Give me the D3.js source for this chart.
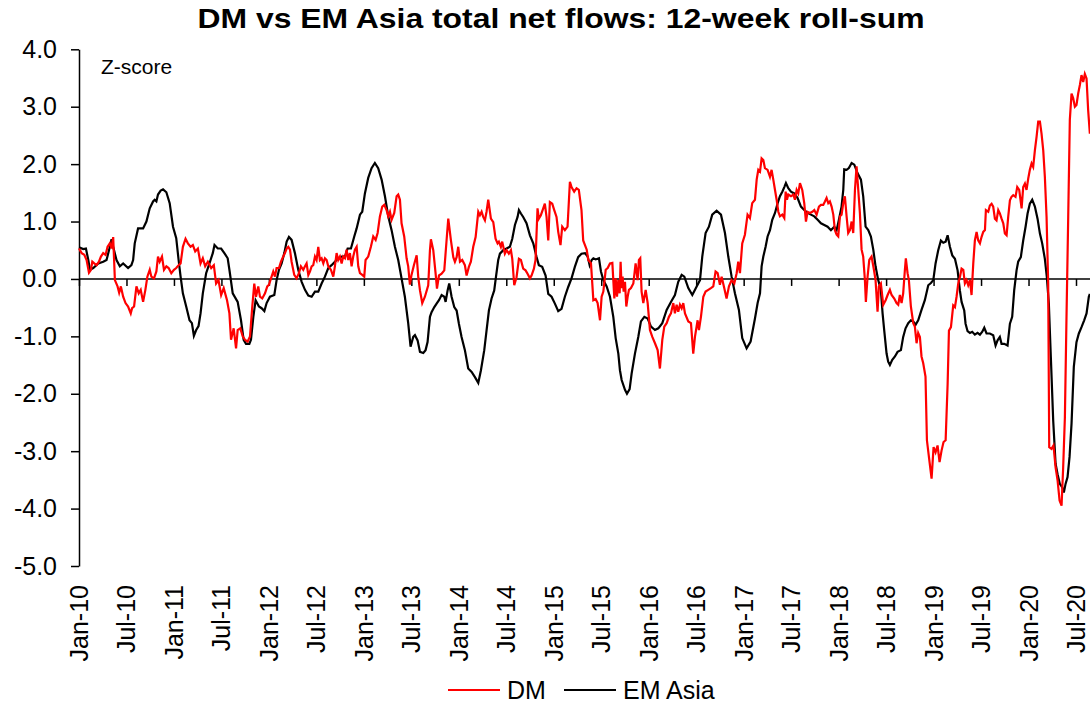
<!DOCTYPE html>
<html>
<head>
<meta charset="utf-8">
<script src="https://cdn.jsdelivr.net/npm/d3@7"></script>
<style>
  body { margin: 0; background: #fff; }
  svg text { font-family: "Liberation Sans", Arial, sans-serif; fill: #000; }
</style>
</head>
<body>
<div id="chart"></div>
<script>
// x tick labels, one every half year
var tickLabels = ["Jan-10","Jul-10","Jan-11","Jul-11","Jan-12","Jul-12","Jan-13","Jul-13","Jan-14","Jul-14",
  "Jan-15","Jul-15","Jan-16","Jul-16","Jan-17","Jul-17","Jan-18","Jul-18","Jan-19","Jul-19","Jan-20","Jul-20"];
var yTicks = [4, 3, 2, 1, 0, -1, -2, -3, -4, -5];
var seriesNames = ["DM", "EM Asia"];

// DM: decimal year / z-score
var dmYear = [2010.000,2010.028,2010.056,2010.080,2010.105,2010.126,2010.140,2010.161,2010.185,2010.210,2010.231,2010.255,2010.280,2010.301,2010.325,2010.343,2010.360,2010.378,2010.406,2010.423,2010.441,2010.465,2010.490,2010.517,2010.545,2010.559,2010.580,2010.605,2010.629,2010.650,2010.675,2010.699,2010.720,2010.745,2010.762,2010.790,2010.815,2010.832,2010.850,2010.874,2010.895,2010.920,2010.944,2010.972,2011.000,2011.024,2011.049,2011.070,2011.094,2011.122,2011.147,2011.175,2011.199,2011.224,2011.252,2011.280,2011.304,2011.329,2011.357,2011.392,2011.420,2011.444,2011.469,2011.497,2011.524,2011.559,2011.584,2011.601,2011.629,2011.654,2011.671,2011.699,2011.724,2011.748,
  2011.776,2011.801,2011.825,2011.846,2011.864,2011.888,2011.906,2011.930,2011.959,2011.983,2012.001,2012.022,2012.046,2012.064,2012.081,2012.106,2012.127,2012.151,2012.169,2012.187,2012.204,2012.222,2012.239,2012.267,2012.292,2012.316,2012.337,2012.362,2012.380,2012.397,2012.415,2012.432,2012.450,2012.467,2012.485,2012.502,2012.520,2012.537,2012.555,2012.573,2012.590,2012.608,2012.625,2012.653,2012.678,2012.695,2012.713,2012.730,2012.748,2012.766,2012.783,2012.801,2012.818,2012.836,2012.853,2012.871,2012.888,2012.906,2012.924,2012.941,2012.959,2012.983,2013.004,2013.018,2013.046,2013.074,2013.099,2013.124,2013.145,2013.169,2013.194,2013.215,2013.239,2013.257,2013.275,2013.292,2013.320,2013.345,2013.362,2013.380,2013.397,2013.425,2013.450,2013.467,2013.485,2013.502,2013.527,
  2013.556,2013.573,2013.591,2013.615,2013.643,2013.678,2013.696,2013.706,2013.731,2013.756,2013.770,2013.791,2013.819,2013.847,2013.871,2013.889,2013.917,2013.942,2013.959,2013.977,2013.994,2014.012,2014.036,2014.064,2014.082,2014.106,2014.127,2014.152,2014.177,2014.205,2014.222,2014.240,2014.257,2014.275,2014.292,2014.310,2014.338,2014.363,2014.387,2014.408,2014.422,2014.443,2014.457,2014.485,2014.503,2014.527,2014.549,2014.563,2014.584,2014.608,2014.633,2014.654,2014.678,2014.703,2014.724,2014.749,2014.766,2014.791,2014.808,2014.829,2014.843,2014.864,2014.889,2014.906,2014.924,2014.942,2014.959,2014.984,2015.005,2015.029,2015.047,2015.071,2015.089,2015.117,2015.145,2015.170,2015.187,2015.215,2015.240,2015.264,2015.292,2015.310,
  2015.347,2015.364,2015.392,2015.417,2015.441,2015.462,2015.487,2015.504,2015.522,2015.547,2015.568,2015.592,2015.617,2015.638,2015.652,2015.666,2015.680,2015.694,2015.704,2015.715,2015.725,2015.736,2015.750,2015.764,2015.778,2015.792,2015.813,2015.838,2015.862,2015.883,2015.897,2015.911,2015.925,2015.943,2015.968,2015.989,2016.013,2016.038,2016.066,2016.094,2016.118,2016.143,2016.164,2016.189,2016.213,2016.234,2016.259,2016.276,2016.294,2016.311,2016.329,2016.347,2016.364,2016.382,2016.417,2016.445,2016.469,2016.487,2016.515,2016.529,2016.550,2016.575,2016.599,2016.627,2016.655,2016.680,2016.704,2016.726,2016.750,2016.768,2016.796,2016.820,2016.845,2016.873,2016.901,2016.926,2016.943,2016.961,2016.985,2017.013,2017.041,2017.066,2017.090,
  2017.119,2017.137,2017.154,2017.172,2017.189,2017.207,2017.224,2017.252,2017.277,2017.294,2017.312,2017.330,2017.347,2017.365,2017.382,2017.407,2017.428,2017.442,2017.456,2017.470,2017.498,2017.523,2017.540,2017.558,2017.575,2017.593,2017.617,2017.638,2017.656,2017.673,2017.698,2017.723,2017.744,2017.768,2017.793,2017.814,2017.838,2017.856,2017.873,2017.891,2017.908,2017.926,2017.944,2017.961,2017.979,2017.996,2018.014,2018.031,2018.049,2018.066,2018.084,2018.101,2018.119,2018.137,2018.154,2018.172,2018.189,2018.207,2018.224,2018.242,2018.259,2018.277,2018.287,2018.305,2018.323,2018.347,2018.372,2018.389,2018.410,2018.424,2018.445,2018.470,2018.495,2018.516,2018.540,2018.558,2018.586,2018.610,2018.628,2018.645,2018.663,2018.680,2018.698,2018.708,2018.726,2018.740,2018.761,2018.786,2018.803,2018.821,2018.838,2018.856,2018.873,2018.891,2018.915,
  2018.930,2018.951,2018.979,2019.000,2019.021,2019.042,2019.063,2019.084,2019.105,2019.127,2019.148,2019.162,2019.183,2019.207,2019.225,2019.242,2019.260,2019.277,2019.295,2019.313,2019.330,2019.348,2019.365,2019.383,2019.400,2019.418,2019.435,2019.453,2019.470,2019.488,2019.505,2019.523,2019.541,2019.551,2019.576,2019.593,2019.611,2019.628,2019.646,2019.663,2019.681,2019.698,2019.716,2019.734,2019.751,2019.769,2019.786,2019.804,2019.821,2019.839,2019.863,2019.881,2019.902,2019.927,2019.944,2019.962,2019.979,2019.997,2020.014,2020.032,2020.049,2020.067,2020.085,2020.102,2020.120,2020.137,2020.155,2020.172,2020.190,2020.207,2020.218,2020.242,2020.263,2020.285,2020.306,2020.327,2020.348,2020.365,2020.383,2020.400,2020.418,2020.435,2020.453,2020.470,2020.488,2020.505,2020.523,2020.541,2020.558,2020.576,2020.593,2020.611,2020.628,2020.646];
var dmValue = [0.53,0.45,0.42,0.33,0.11,0.16,0.30,0.27,0.24,0.30,0.39,0.45,0.42,0.56,0.62,0.53,0.73,-0.02,-0.13,-0.24,-0.13,-0.31,-0.42,-0.48,-0.60,-0.51,-0.48,-0.13,-0.25,-0.19,-0.40,-0.19,0.04,0.16,0.04,0.01,0.13,0.39,0.30,0.39,0.16,0.22,0.19,0.10,0.16,0.19,0.24,0.27,0.56,0.70,0.62,0.56,0.59,0.48,0.53,0.27,0.36,0.22,0.30,0.19,0.24,-0.08,-0.02,-0.28,-0.16,-0.37,-0.60,-1.06,-0.86,-1.21,-0.89,-0.86,-1.00,-1.06,
  -1.09,-1.00,-0.48,-0.08,-0.31,-0.13,-0.31,-0.34,-0.25,-0.13,-0.10,0.01,0.13,0.04,0.19,0.19,0.30,0.39,0.45,0.53,0.56,0.51,0.30,0.07,0.01,0.10,0.22,0.16,0.22,0.27,0.07,0.13,0.22,0.24,0.39,0.33,0.56,0.33,0.36,0.27,0.36,0.33,0.22,0.16,0.04,0.22,0.45,0.33,0.39,0.27,0.39,0.36,0.51,0.33,0.45,0.22,0.39,0.51,0.56,0.22,0.10,0.07,0.04,0.33,0.39,0.56,0.74,0.68,0.80,1.09,1.26,1.29,1.20,1.09,1.17,1.03,1.15,1.44,1.47,1.38,0.97,0.74,0.36,0.22,-0.10,0.07,0.24,
  0.41,0.03,-0.20,-0.42,-0.31,-0.11,0.50,0.69,0.50,0.09,-0.17,0.06,0.09,0.15,0.67,1.05,0.67,0.38,0.30,0.38,0.56,0.30,0.33,0.24,0.06,0.21,0.30,0.56,0.73,1.17,1.11,1.17,1.08,1.02,1.17,1.38,1.05,0.99,0.70,0.62,0.65,0.56,0.65,0.44,0.50,0.44,0.50,0.35,-0.11,0.03,0.35,0.33,0.18,0.15,0.09,0.01,0.06,0.18,0.33,1.23,1.05,1.11,1.23,1.31,1.08,0.67,1.34,1.31,1.20,1.08,0.82,0.59,0.91,0.85,0.91,1.69,1.60,1.52,1.58,1.55,1.20,0.67,
  0.51,0.33,0.27,-0.37,-0.35,-0.42,-0.72,-0.31,-0.22,0.16,0.19,0.27,0.28,-0.34,0.01,-0.31,-0.02,-0.25,0.30,-0.16,0.04,-0.22,-0.05,-0.48,-0.31,-0.19,-0.16,-0.08,0.27,-0.02,0.33,0.36,-0.22,-0.42,-0.19,-0.42,-0.89,-1.01,-1.12,-1.24,-1.56,-1.06,-0.83,-0.77,-0.66,-0.60,-0.42,-0.60,-0.45,-0.57,-0.45,-0.51,-0.42,-0.60,-0.74,-0.77,-1.30,-1.01,-0.72,-0.89,-0.66,-0.31,-0.22,-0.19,-0.16,-0.13,0.13,0.10,-0.10,0.04,-0.16,-0.34,-0.13,-0.02,-0.08,0.10,0.30,0.10,0.62,0.77,1.12,1.06,1.32,
  1.38,1.73,1.90,1.87,2.10,2.07,1.93,1.90,1.78,1.90,1.73,1.55,1.38,1.17,1.09,1.12,1.06,1.52,1.38,1.47,1.44,1.47,1.38,1.55,1.49,1.67,1.55,1.32,1.00,1.17,1.15,1.17,1.20,1.12,1.26,1.29,1.29,1.35,1.41,1.32,1.35,1.26,1.12,0.85,0.77,0.74,1.09,1.12,1.32,1.44,1.09,0.80,0.85,1.00,0.80,1.55,1.96,1.55,1.15,0.51,0.39,-0.02,-0.40,0.04,0.33,0.39,0.16,-0.02,-0.57,-0.13,-0.08,-0.45,-0.37,-0.28,-0.19,-0.28,-0.34,-0.42,-0.45,-0.28,-0.42,-0.25,0.16,0.36,0.10,-0.02,-0.48,-0.77,-0.83,-1.12,-0.94,-1.01,-1.35,-1.47,-1.70,
  -2.81,-3.10,-3.48,-2.93,-3.02,-2.90,-3.19,-2.99,-2.84,-2.81,-1.83,-0.90,-0.84,-0.46,-0.49,-0.31,-0.08,0.03,0.18,0.16,-0.08,-0.02,-0.11,-0.02,-0.28,0.27,0.67,0.82,0.67,0.62,0.73,0.82,0.85,1.20,1.17,1.28,1.31,1.26,1.05,1.02,1.20,1.14,1.05,0.97,0.79,0.76,1.08,1.37,1.43,1.46,1.43,1.60,1.55,1.23,1.60,1.66,1.55,1.75,1.90,2.01,1.95,2.24,2.48,2.74,2.74,2.53,2.24,1.78,1.08,-0.08,-2.93,-2.96,-2.90,-3.28,-3.51,-3.86,-3.95,-3.28,-2.41,-0.66,1.08,2.77,3.23,3.15,3.00,3.03,3.23,3.38,3.55,3.43,3.57,3.49,2.94,2.53];

// EM Asia: decimal year / z-score
var emYear = [2010.000,2010.045,2010.073,2010.098,2010.115,2010.150,2010.203,2010.255,2010.290,2010.325,2010.343,2010.360,2010.395,2010.430,2010.465,2010.517,2010.552,2010.570,2010.587,2010.622,2010.675,2010.710,2010.745,2010.780,2010.797,2010.815,2010.832,2010.860,2010.885,2010.920,2010.955,2010.990,2011.024,2011.049,2011.070,2011.094,2011.129,2011.164,2011.189,2011.210,2011.234,2011.259,2011.280,2011.304,2011.339,2011.374,2011.409,2011.427,2011.462,2011.497,2011.531,2011.566,2011.584,2011.619,2011.671,2011.706,2011.734,2011.759,2011.794,
  2011.811,2011.836,2011.860,2011.895,2011.923,2011.952,2011.976,2012.011,2012.057,2012.081,2012.106,2012.134,2012.162,2012.187,2012.211,2012.239,2012.274,2012.309,2012.345,2012.380,2012.415,2012.450,2012.485,2012.520,2012.555,2012.590,2012.625,2012.660,2012.695,2012.730,2012.766,2012.801,2012.829,2012.864,2012.899,2012.924,2012.959,2012.983,2013.011,2013.046,2013.081,2013.116,2013.151,2013.187,2013.222,2013.257,2013.292,2013.327,2013.362,2013.397,2013.432,2013.467,2013.492,2013.520,
  2013.538,2013.566,2013.591,2013.626,2013.650,2013.671,2013.696,2013.713,2013.742,2013.766,2013.791,2013.819,2013.847,2013.861,2013.882,2013.899,2013.924,2013.952,2013.977,2014.001,2014.029,2014.064,2014.099,2014.135,2014.170,2014.205,2014.233,2014.268,2014.292,2014.317,2014.345,2014.373,2014.391,2014.415,2014.433,2014.468,2014.503,2014.538,2014.563,2014.591,2014.619,2014.633,2014.654,2014.678,2014.713,2014.749,2014.784,2014.819,2014.843,2014.878,2014.914,2014.942,2014.977,2015.012,2015.047,2015.082,2015.117,2015.152,2015.187,2015.222,2015.257,2015.292,
  2015.329,2015.357,2015.378,2015.399,2015.417,2015.441,2015.476,2015.497,2015.522,2015.557,2015.592,2015.627,2015.652,2015.680,2015.697,2015.715,2015.750,2015.771,2015.799,2015.820,2015.855,2015.890,2015.918,2015.954,2015.989,2016.024,2016.066,2016.101,2016.143,2016.189,2016.234,2016.276,2016.311,2016.347,2016.375,2016.417,2016.459,2016.505,2016.540,2016.564,2016.599,2016.634,2016.669,2016.715,2016.761,2016.803,2016.838,2016.873,2016.908,2016.950,2016.985,2017.031,2017.073,
  2017.119,2017.147,2017.172,2017.189,2017.207,2017.231,2017.252,2017.277,2017.301,2017.330,2017.358,2017.382,2017.407,2017.428,2017.445,2017.470,2017.498,2017.533,2017.568,2017.603,2017.638,2017.673,2017.708,2017.744,2017.779,2017.814,2017.849,2017.884,2017.919,2017.954,2017.979,2018.003,2018.031,2018.049,2018.059,2018.084,2018.108,2018.137,2018.165,2018.200,2018.235,2018.259,2018.284,2018.312,2018.340,2018.365,2018.389,2018.417,2018.445,2018.463,2018.480,2018.505,2018.522,2018.540,2018.565,2018.593,2018.621,2018.656,2018.680,2018.705,2018.733,2018.761,2018.786,2018.810,2018.838,2018.873,2018.908,
  2018.944,2018.972,2018.997,2019.021,2019.049,2019.077,2019.102,2019.127,2019.148,2019.172,2019.197,2019.225,2019.253,2019.277,2019.295,2019.323,2019.337,2019.358,2019.383,2019.407,2019.435,2019.463,2019.488,2019.513,2019.534,2019.558,2019.593,2019.628,2019.653,2019.674,2019.698,2019.716,2019.744,2019.779,2019.804,2019.828,2019.849,2019.874,2019.891,2019.919,2019.944,2019.969,2019.990,2020.014,2020.039,2020.067,2020.095,2020.120,2020.144,2020.172,2020.193,2020.214,2020.235,2020.260,2020.285,2020.306,2020.330,2020.355,2020.372,2020.390,2020.411,2020.432,2020.453,2020.477,2020.505,2020.530,2020.558,2020.586,2020.611,2020.635,2020.646];
var emValue = [0.55,0.52,0.53,0.33,0.16,0.19,0.27,0.30,0.33,0.56,0.69,0.56,0.33,0.22,0.27,0.19,0.24,0.33,0.62,0.88,0.88,1.00,1.23,1.35,1.38,1.35,1.47,1.54,1.56,1.51,1.32,0.91,0.71,0.33,0.04,-0.25,-0.48,-0.72,-0.77,-0.99,-0.89,-0.82,-0.60,-0.25,0.10,0.27,0.45,0.59,0.53,0.53,0.45,0.36,0.16,-0.25,-0.40,-0.72,-1.06,-1.13,-1.13,
  -1.06,-0.66,-0.37,-0.48,-0.51,-0.56,-0.42,-0.31,-0.28,-0.02,0.16,0.27,0.45,0.65,0.73,0.68,0.45,0.16,-0.05,-0.19,-0.29,-0.31,-0.22,-0.22,-0.08,0.04,0.19,0.24,0.30,0.36,0.39,0.39,0.53,0.53,0.74,0.88,1.12,1.17,1.49,1.76,1.93,2.02,1.93,1.73,1.44,1.09,0.85,0.56,0.33,0.01,-0.31,-0.77,-1.18,-1.01,
  -0.98,-1.07,-1.27,-1.29,-1.24,-1.10,-0.66,-0.58,-0.49,-0.43,-0.37,-0.28,-0.31,-0.40,-0.20,-0.08,-0.31,-0.49,-0.55,-0.78,-1.01,-1.24,-1.56,-1.62,-1.71,-1.81,-1.59,-1.24,-0.90,-0.55,-0.34,-0.20,0.03,0.33,0.44,0.50,0.53,0.56,0.70,0.94,1.08,1.20,1.14,1.08,0.97,0.76,0.62,0.38,0.24,0.21,0.06,-0.26,-0.31,-0.43,-0.56,-0.52,-0.31,-0.14,0.01,0.21,0.38,0.44,
  0.45,0.39,0.24,0.33,0.36,0.34,0.36,0.13,-0.02,-0.13,-0.31,-0.66,-1.03,-1.30,-1.59,-1.76,-1.93,-2.00,-1.92,-1.65,-1.30,-1.01,-0.74,-0.66,-0.69,-0.83,-0.89,-0.86,-0.77,-0.54,-0.40,-0.28,-0.05,0.07,0.04,-0.16,-0.28,-0.13,-0.02,0.39,0.80,0.91,1.12,1.19,1.12,0.80,0.39,0.04,-0.25,-0.54,-1.03,-1.21,-1.09,
  -0.69,-0.42,-0.25,0.22,0.39,0.56,0.74,0.85,1.03,1.15,1.32,1.44,1.52,1.60,1.67,1.58,1.52,1.49,1.41,1.26,1.20,1.15,1.12,1.09,1.03,0.97,0.94,0.91,0.85,0.91,0.85,1.03,1.26,1.55,1.91,1.90,1.93,2.02,1.99,1.84,1.73,1.44,0.91,0.85,0.74,0.51,0.22,-0.02,-0.19,-0.60,-0.89,-1.30,-1.44,-1.50,-1.41,-1.35,-1.27,-1.24,-1.01,-0.86,-0.77,-0.72,-0.74,-0.80,-0.72,-0.54,-0.37,
  -0.11,-0.07,-0.02,0.27,0.50,0.67,0.63,0.65,0.76,0.56,0.41,0.35,0.15,-0.20,-0.40,-0.55,-0.78,-0.91,-0.94,-0.92,-0.97,-0.94,-0.97,-0.92,-0.85,-0.95,-0.95,-0.98,-1.16,-1.07,-1.01,-1.13,-1.13,-1.16,-0.78,-0.66,-0.20,0.15,0.30,0.38,0.67,0.91,1.14,1.31,1.38,1.26,1.05,0.79,0.62,0.35,0.03,-0.43,-1.36,-2.47,-3.22,-3.40,-3.57,-3.63,-3.72,-3.57,-3.45,-3.10,-2.52,-1.53,-1.10,-0.95,-0.84,-0.72,-0.60,-0.31,-0.26];

var width = 1090, height = 705;

var svg = d3.select('#chart').append('svg')
  .attr('width', width)
  .attr('height', height);

// one tick every half year
var x = d3.scaleLinear().domain([2010, 2020.5]).range([79, 1076]);
var y = d3.scaleLinear().domain([-5, 4]).range([566, 49.3]);

// title
svg.append('text')
  .attr('x', 561).attr('y', 28)
  .attr('text-anchor', 'middle')
  .attr('font-size', 28).attr('font-weight', 'bold')
  .attr('textLength', 727).attr('lengthAdjust', 'spacingAndGlyphs')
  .text('DM vs EM Asia total net flows: 12-week roll-sum');

svg.append('text')
  .attr('x', 101).attr('y', 74)
  .attr('font-size', 21)
  .text('Z-score');

// y axis
var yAxis = svg.append('g')
  .attr('transform', 'translate(' + x(2010) + ',0)')
  .call(d3.axisLeft(y).tickValues(yTicks).tickSize(8).tickSizeOuter(0)
    .tickFormat(function(d) { return d.toFixed(1); }));
yAxis.select('.domain').attr('stroke', '#000').attr('stroke-width', 1.5);
yAxis.selectAll('.tick line').attr('stroke', '#000').attr('stroke-width', 1.5);
yAxis.selectAll('.tick text')
  .attr('x', -22)
  .attr('font-size', 25)
  .attr('font-family', '"Liberation Sans", Arial, sans-serif');

// x axis sits on the zero line, labels at the bottom
var xTickVals = tickLabels.map(function(d, i) { return 2010 + i / 2; });
var xAxis = svg.append('g')
  .attr('transform', 'translate(0,' + y(0) + ')')
  .call(d3.axisBottom(x).tickValues(xTickVals).tickSize(7).tickFormat(''));
xAxis.select('.domain').remove();
xAxis.selectAll('.tick line').attr('stroke', '#000').attr('stroke-width', 1.5);

svg.append('line')
  .attr('x1', x(2010)).attr('x2', width)
  .attr('y1', y(0)).attr('y2', y(0))
  .attr('stroke', '#000').attr('stroke-width', 1.5);

svg.append('g').selectAll('text')
  .data(tickLabels)
  .enter().append('text')
  .attr('transform', function(d, i) {
    return 'translate(' + (x(xTickVals[i]) + 9) + ',585) rotate(-90)';
  })
  .attr('text-anchor', 'end')
  .attr('font-size', 25)
  .text(function(d) { return d; });

// lines
var line = d3.line()
  .x(function(d) { return x(d[0]); })
  .y(function(d) { return y(d[1]); });

var emData = emYear.map(function(t, i) { return [t, emValue[i]]; });
var dmData = dmYear.map(function(t, i) { return [t, dmValue[i]]; });

svg.append('path')
  .datum(emData)
  .attr('fill', 'none')
  .attr('stroke', '#000')
  .attr('stroke-width', 2.2)
  .attr('d', line);

svg.append('path')
  .datum(dmData)
  .attr('fill', 'none')
  .attr('stroke', '#ff0000')
  .attr('stroke-width', 2.2)
  .attr('d', line);

// legend
var legend = svg.append('g');
var legendItems = [
  { name: seriesNames[0], color: '#ff0000', x: 448 },
  { name: seriesNames[1], color: '#000', x: 564 }
];
legendItems.forEach(function(item) {
  legend.append('line')
    .attr('x1', item.x).attr('x2', item.x + 52)
    .attr('y1', 690).attr('y2', 690)
    .attr('stroke', item.color).attr('stroke-width', 2);
  legend.append('text')
    .attr('x', item.x + 59).attr('y', 699)
    .attr('font-size', 25)
    .text(item.name);
});
</script>
</body>
</html>
